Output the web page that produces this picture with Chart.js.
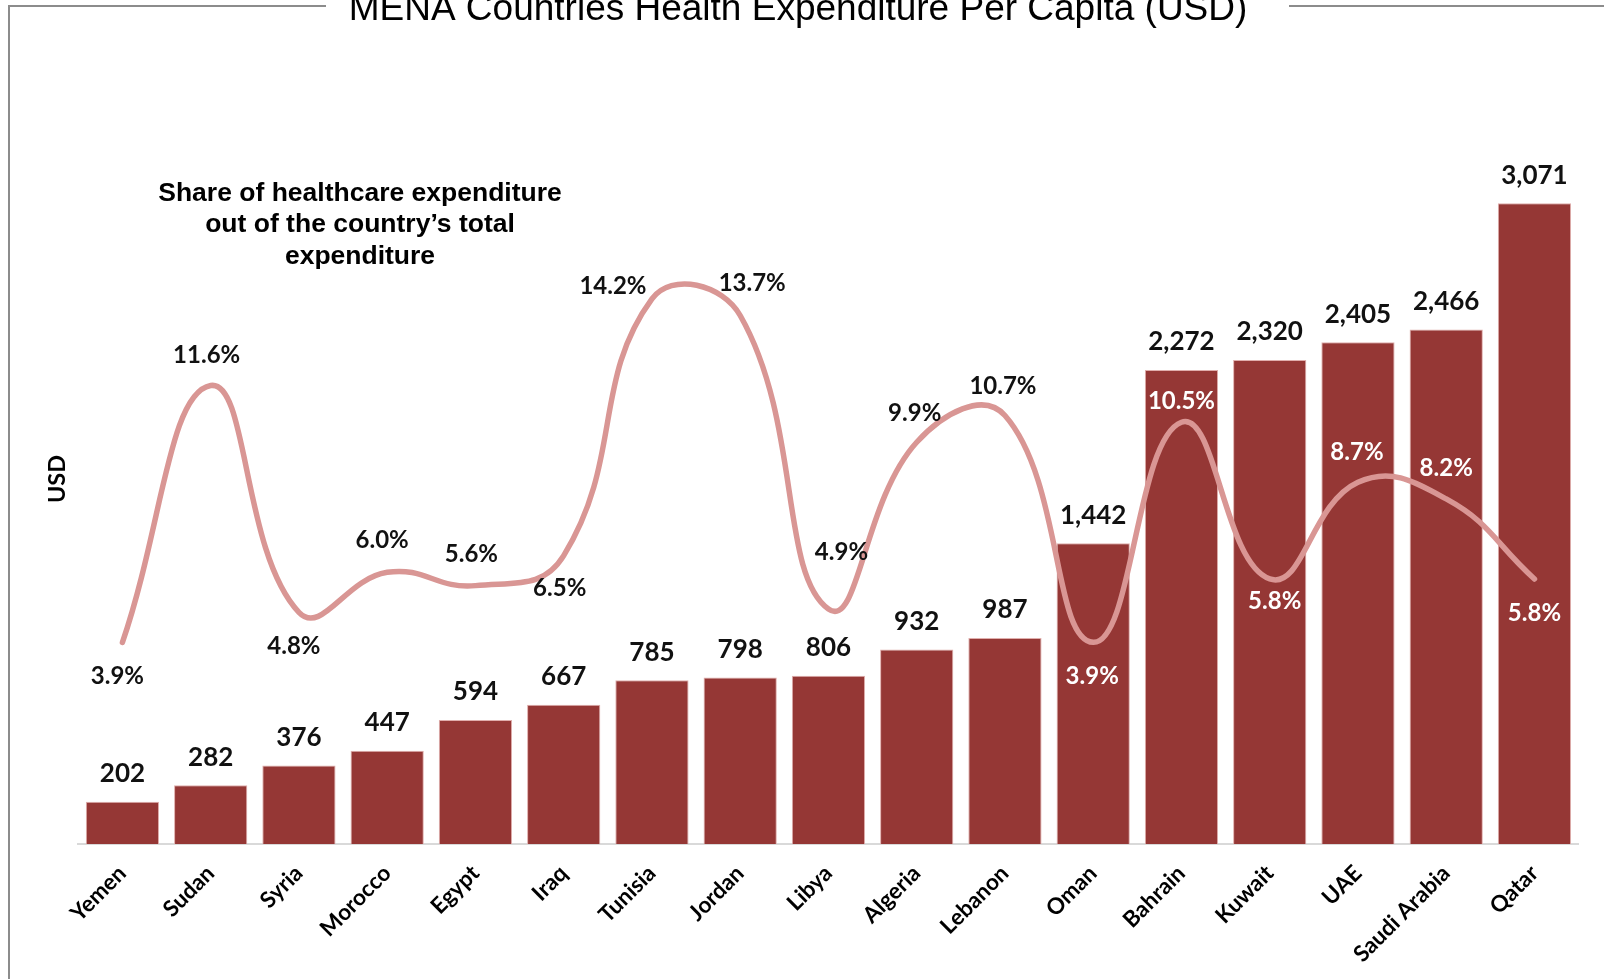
<!DOCTYPE html>
<html>
<head>
<meta charset="utf-8">
<title>MENA Countries Health Expenditure Per Capita (USD)</title>
<script src="https://cdn.jsdelivr.net/npm/chart.js@4.4.1/dist/chart.umd.min.js"></script>
<style>
  html, body { margin: 0; padding: 0; background: #ffffff; overflow: hidden; }
  #wrap { position: relative; width: 1604px; height: 979px; }
  canvas { display: block; }
</style>
</head>
<body>
<div id="wrap"><canvas id="chart" width="1604" height="979"></canvas></div>
<script>
// ---- data ----
const countries = ['Yemen', 'Sudan', 'Syria', 'Morocco', 'Egypt', 'Iraq', 'Tunisia', 'Jordan', 'Libya',
  'Algeria', 'Lebanon', 'Oman', 'Bahrain', 'Kuwait', 'UAE', 'Saudi Arabia', 'Qatar'];
const perCapitaUSD = [202, 282, 376, 447, 594, 667, 785, 798, 806, 932, 987, 1442, 2272, 2320, 2405, 2466, 3071];
const healthSharePct = [3.9, 11.6, 4.8, 6.0, 5.6, 6.5, 14.2, 13.7, 4.9, 9.9, 10.7, 3.9, 10.5, 5.8, 8.7, 8.2, 5.8];

const titleText = 'MENA Countries Health Expenditure Per Capita (USD)';
const noteLines = ['Share of healthcare expenditure', 'out of the country\u2019s total', 'expenditure'];
const axisTitle = 'USD';

// ---- label styling for the share line (colour and placement around each point) ----
const shareLabelColors = ['#111', '#111', '#111', '#111', '#111', '#111', '#111', '#111', '#111',
  '#111', '#111', '#fff', '#fff', '#fff', '#fff', '#fff', '#fff'];
const shareLabelShift = [[-5, 33], [-4, -31], [-5, 33], [-5, -33], [-4, -32], [-4, 32], [-39, -13], [12, -33],
  [13, -58], [-2, -30], [-2, -30], [-1, 33], [0, -22], [5, 21], [-1, -31], [0, -32], [0, 33]];

const BAR_RED = '#953735';
const LINE_PINK = '#d99694';

const textPlugin = {
  id: 'chartText',
  beforeDraw(chart) {
    const ctx = chart.ctx;
    ctx.save();
    ctx.fillStyle = '#ffffff';
    ctx.fillRect(0, 0, chart.width, chart.height);

    // frame with a gap for the title
    ctx.strokeStyle = '#8c8c8c';
    ctx.lineWidth = 2;
    ctx.beginPath();
    ctx.moveTo(9, chart.height);
    ctx.lineTo(9, 6);
    ctx.lineTo(326, 6);
    ctx.moveTo(1289, 6);
    ctx.lineTo(chart.width, 6);
    ctx.stroke();

    // title
    ctx.fillStyle = '#000';
    ctx.font = '37px "Liberation Sans", Arial, sans-serif';
    ctx.textAlign = 'center';
    ctx.textBaseline = 'alphabetic';
    ctx.fillText(titleText, 798, 20);

    // note about the line series
    ctx.font = 'bold 26.5px "Liberation Sans", Arial, sans-serif';
    const baselines = [200.5, 232, 263.5];
    noteLines.forEach((t, i) => ctx.fillText(t, 360, baselines[i]));

    // vertical axis title
    ctx.save();
    ctx.translate(57, 479);
    ctx.rotate(-Math.PI / 2);
    ctx.font = 'bold 23.5px Lato, "Open Sans", sans-serif';
    ctx.textAlign = 'center';
    ctx.textBaseline = 'middle';
    ctx.fillText(axisTitle, 0, 0);
    ctx.restore();
    ctx.restore();
  },
  afterDatasetsDraw(chart) {
    const ctx = chart.ctx;
    ctx.save();
    ctx.textAlign = 'center';
    ctx.textBaseline = 'alphabetic';

    // bar values
    const barMeta = chart.getDatasetMeta(1);
    ctx.font = 'bold 26px Lato, "Open Sans", sans-serif';
    ctx.fillStyle = '#111';
    barMeta.data.forEach((bar, i) => {
      const label = perCapitaUSD[i].toLocaleString('en-US');
      ctx.fillText(label, bar.x, bar.y - 29 + 0.36 * 26);
    });

    // share values
    const lineMeta = chart.getDatasetMeta(0);
    ctx.font = 'bold 24px Lato, "Open Sans", sans-serif';
    lineMeta.data.forEach((pt, i) => {
      const [dx, dy] = shareLabelShift[i];
      ctx.fillStyle = shareLabelColors[i];
      ctx.fillText(healthSharePct[i].toFixed(1) + '%', pt.x + dx, pt.y + dy + 0.36 * 24);
    });
    ctx.restore();
  }
};

function draw() {
  new Chart(document.getElementById('chart'), {
    data: {
      labels: countries,
      datasets: [
        {
          type: 'line',
          label: 'Share of total expenditure (%)',
          data: healthSharePct,
          yAxisID: 'yShare',
          borderColor: LINE_PINK,
          borderWidth: 5.5,
          borderCapStyle: 'round',
          pointRadius: 0,
          pointHoverRadius: 0,
          tension: 0.45,
          fill: false,
          order: 0
        },
        {
          type: 'bar',
          label: 'Health expenditure per capita (USD)',
          data: perCapitaUSD,
          yAxisID: 'yUsd',
          backgroundColor: BAR_RED,
          borderColor: '#e0aeac',
          borderWidth: 1,
          categoryPercentage: 1.0,
          barPercentage: 0.83,
          order: 1
        }
      ]
    },
    options: {
      responsive: false,
      animation: false,
      devicePixelRatio: 1,
      layout: { padding: { left: 78.3, right: 25.4, top: 113.8, bottom: 0 } },
      plugins: {
        legend: { display: false },
        title: { display: false },
        tooltip: { enabled: false }
      },
      scales: {
        x: {
          grid: { display: false, drawTicks: false },
          border: { display: true, color: '#d9d9d9', width: 2 },
          ticks: {
            autoSkip: false,
            minRotation: 45,
            maxRotation: 45,
            padding: 16,
            color: '#000',
            font: { family: 'Lato, "Open Sans", sans-serif', weight: 'bold', size: 22.5 }
          },
          afterFit(scale) { scale.height = 135; }
        },
        yUsd: { display: false, position: 'left', min: 0, max: 3500 },
        yShare: { display: false, position: 'right', min: -2.147, max: 19.748 }
      }
    },
    plugins: [textPlugin]
  });
}

if (document.fonts && document.fonts.load) {
  Promise.all([
    document.fonts.load('bold 25px Lato'),
    document.fonts.load('37px "Liberation Sans"'),
    document.fonts.load('bold 26px "Liberation Sans"')
  ]).then(draw, draw);
} else {
  draw();
}
</script>
</body>
</html>
